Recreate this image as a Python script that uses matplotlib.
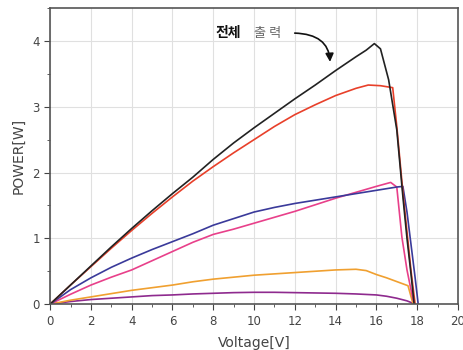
import matplotlib
matplotlib.use("Agg")
import matplotlib.pyplot as plt
from matplotlib.ticker import MultipleLocator

plt.rcParams['font.family'] = ['DejaVu Sans', 'Noto Sans CJK KR']

# total output (black)
black_v = [0, 1, 2, 3, 4, 5, 6, 7, 8, 9, 10, 11, 12, 13, 14, 15, 15.5, 15.9,
           16.2, 16.6, 17.0, 17.3, 17.5, 17.7, 17.85]
black_p = [0, 0.29, 0.58, 0.87, 1.15, 1.42, 1.68, 1.93, 2.20, 2.45, 2.68, 2.90,
           3.12, 3.33, 3.55, 3.76, 3.86, 3.96, 3.88, 3.41, 2.65, 1.63, 1.00, 0.45, 0]

red_v = [0, 1, 2, 3, 4, 5, 6, 7, 8, 9, 10, 11, 12, 13, 14, 15, 15.6, 16.2,
         16.8, 17.0, 17.3, 17.5, 17.7, 17.9]
red_p = [0, 0.29, 0.57, 0.85, 1.12, 1.38, 1.63, 1.87, 2.09, 2.30, 2.50, 2.70,
         2.88, 3.03, 3.17, 3.28, 3.33, 3.32, 3.29, 2.70, 1.70, 1.10, 0.50, 0]

blue_v = [0, 1, 2, 3, 4, 5, 6, 7, 8, 9, 10, 11, 12, 13, 14, 15, 16, 17, 17.3,
          17.5, 17.7, 17.9, 18.05]
blue_p = [0, 0.22, 0.40, 0.56, 0.70, 0.83, 0.95, 1.07, 1.20, 1.30, 1.40, 1.47,
          1.53, 1.58, 1.63, 1.68, 1.73, 1.78, 1.79, 1.40, 0.90, 0.40, 0]

pink_v = [0, 1, 2, 3, 4, 5, 6, 7, 8, 9, 10, 11, 12, 13, 14, 15, 16, 16.7, 17.0,
          17.25, 17.5, 17.8, 17.9]
pink_p = [0, 0.15, 0.29, 0.41, 0.52, 0.66, 0.80, 0.94, 1.06, 1.14, 1.23, 1.32,
          1.41, 1.51, 1.61, 1.70, 1.79, 1.85, 1.78, 1.02, 0.52, 0.06, 0]

orange_v = [0, 1, 2, 3, 4, 5, 6, 7, 8, 9, 10, 11, 12, 13, 14, 15, 15.5, 16,
            16.5, 17.2, 17.55, 17.8]
orange_p = [0, 0.06, 0.11, 0.16, 0.21, 0.25, 0.29, 0.34, 0.38, 0.41, 0.44, 0.46,
            0.48, 0.50, 0.52, 0.53, 0.51, 0.45, 0.40, 0.32, 0.28, 0]

purple_v = [0, 1, 2, 3, 4, 5, 6, 7, 8, 9, 10, 11, 12, 13, 14, 15, 16, 16.5, 17,
            17.5, 17.9]
purple_p = [0, 0.04, 0.07, 0.09, 0.11, 0.13, 0.14, 0.155, 0.165, 0.175, 0.18,
            0.18, 0.175, 0.17, 0.165, 0.155, 0.14, 0.12, 0.09, 0.05, 0]

series = [
    (purple_v, purple_p, "#8e2a8e"),
    (orange_v, orange_p, "#f0a030"),
    (pink_v, pink_p, "#e8408a"),
    (blue_v, blue_p, "#3a3a9a"),
    (red_v, red_p, "#e8402a"),
    (black_v, black_p, "#222222"),
]

fig = plt.figure(figsize=(4.64, 3.5), dpi=100)
ax = fig.add_axes([0.108, 0.131, 0.879, 0.846])

for v, p, c in series:
    ax.plot(v, p, color=c, lw=1.2)

ax.set_xlim(0, 20)
ax.set_ylim(0, 4.5)
ax.xaxis.set_major_locator(MultipleLocator(2))
ax.xaxis.set_minor_locator(MultipleLocator(1))
ax.yaxis.set_major_locator(MultipleLocator(1))
ax.yaxis.set_minor_locator(MultipleLocator(0.5))
ax.grid(True, which="major", color="#e0e0e0", lw=0.8)
ax.set_axisbelow(True)
ax.tick_params(which="both", direction="out", colors="#444444", labelsize=8.5)
ax.tick_params(which="major", length=4)
ax.tick_params(which="minor", length=2.5)
for s in ax.spines.values():
    s.set_color("#555555")
    s.set_linewidth(1.2)

ax.set_xlabel("Voltage[V]", color="#444444", fontsize=10, labelpad=6)
ax.set_ylabel("POWER[W]", color="#444444", fontsize=10, labelpad=5)

ax.text(8.09, 4.12, "전체", family=['Noto Sans CJK KR'], fontweight="bold",
        fontsize=10, va="center", ha="left", color="#111111")
ax.text(10.0, 4.12, "출 력", family=['Noto Sans CJK KR'],
        fontsize=9.5, va="center", ha="left", color="#666666")
ax.annotate("", xy=(13.73, 3.64), xytext=(11.86, 4.12),
            arrowprops=dict(arrowstyle="-|>", color="#111111", lw=1.2,
                            connectionstyle="angle3,angleA=0,angleB=90",
                            mutation_scale=12))

fig.savefig("out.png", dpi=100)
